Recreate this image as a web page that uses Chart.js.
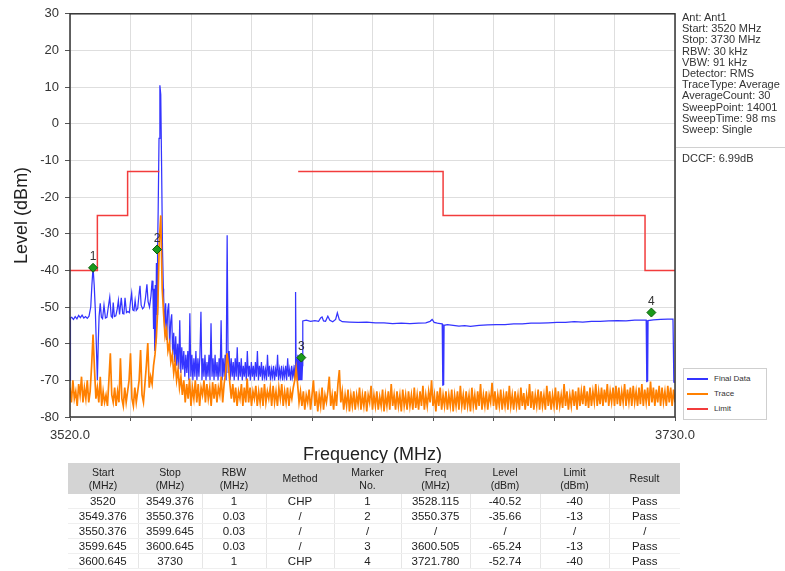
<!DOCTYPE html>
<html>
<head>
<meta charset="utf-8">
<script src="https://cdn.jsdelivr.net/npm/chart.js@4.4.0/dist/chart.umd.min.js"></script>
<style>
  html, body { margin: 0; padding: 0; background: #fff; }
  body { width: 785px; height: 571px; overflow: hidden; position: relative; font-family: 'Liberation Sans', Arial, sans-serif; }
  #plot { position: absolute; left: 0; top: 0; }
  #info { position: absolute; left: 682px; top: 12px; font-size: 11px; line-height: 11.2px; color: #333; white-space: nowrap; }
  #sep { position: absolute; left: 676px; top: 147px; width: 109px; height: 1px; background: #d0d0d0; }
  #dccf { position: absolute; left: 682px; top: 152px; font-size: 11px; color: #333; white-space: nowrap; }
  #legend { position: absolute; left: 683px; top: 368px; width: 82px; height: 50px; border: 1px solid #cfcfcf; background: #fff; font-size: 8px; color: #333; }
  #legend .item { position: absolute; left: 3px; height: 12px; line-height: 12px; white-space: nowrap; }
  #legend .swatch { display: inline-block; width: 21px; height: 0; vertical-align: middle; margin-right: 6px; }
  #tbl { position: absolute; left: 68px; top: 463px; border-collapse: collapse; table-layout: fixed; color: #222; }
  #tbl th { background: #d4d4d4; font-weight: normal; font-size: 10.5px; line-height: 12.5px; height: 31px; padding: 0; text-align: center; }
  #tbl td { height: 14px; line-height: 14px; font-size: 11.5px; padding: 0; text-align: center; border-left: 1px solid #e6e6e6; border-bottom: 1px solid #efefef; }
  #tbl td:first-child { border-left: none; }
</style>
</head>
<body>
<canvas id="plot" width="785" height="466"></canvas>
<div id="info"></div>
<div id="sep"></div>
<div id="dccf"></div>
<div id="legend"></div>
<table id="tbl"></table>
<script>
// sweep settings shown in the side panel
const infoLines = ['Ant: Ant1', 'Start: 3520 MHz', 'Stop: 3730 MHz', 'RBW: 30 kHz', 'VBW: 91 kHz', 'Detector: RMS',
    'TraceType: Average', 'AverageCount: 30', 'SweepPoint: 14001', 'SweepTime: 98 ms', 'Sweep: Single'];
const dccfText = 'DCCF: 6.99dB';

// Final Data, 3520 - 3552.4 MHz (RBW 1 MHz part + carrier)
const finalSegA = [[3520.0,-70],[3520.15,-53],[3520.6,-52.8],[3521.2,-53.4],[3521.8,-52.6],[3522.4,-53.2],[3523.0,-52.3],
    [3523.6,-52.9],[3524.2,-52.2],[3524.8,-53.0],[3525.4,-52.6],[3526.0,-53.1],[3526.6,-52.5],[3527.2,-50],[3527.6,-44],
    [3528.0,-39.2],[3528.4,-44],[3528.8,-51],[3529.2,-62],[3529.5,-70],[3529.8,-60],[3530.1,-52.5],[3530.5,-49],
    [3530.9,-52.8],[3531.3,-53.2],[3531.8,-49.5],[3532.3,-53],[3532.8,-52.8],[3533.3,-50],[3533.8,-47.3],[3534.3,-52.5],
    [3534.7,-52.9],[3535.0,-48.8],[3535.4,-52.6],[3535.9,-52.4],[3536.4,-50.5],[3536.8,-48.2],[3537.2,-52],[3537.8,-47.5],
    [3538.3,-51.8],[3538.7,-51.9],[3539.1,-47.5],[3539.6,-51.5],[3540.1,-51.2],[3540.6,-51.5],[3541.0,-48.5],[3541.4,-46.2],
    [3541.8,-50.8],[3542.2,-51],[3542.6,-48.2],[3543.0,-50.9],[3543.5,-50.4],[3543.9,-47],[3544.3,-44.2],[3544.7,-49.5],
    [3545.2,-50.5],[3545.7,-50],[3546.2,-47.5],[3546.7,-43.8],[3547.1,-48.5],[3547.6,-50],[3548.1,-47],[3548.5,-42.8],
    [3548.8,-46],[3549.0,-56],[3549.2,-45],[3549.4,-62],[3549.6,-44],[3549.8,-60],[3550.0,-38],[3550.2,-52],[3550.4,-34],
    [3550.6,-24],[3550.9,-4],[3551.2,10.5],[3551.5,8],[3551.8,-12],[3552.1,-34],[3552.4,-45]];

// Final Data, dense 30 kHz part from 3552.5 MHz, one value every 0.35 MHz
const denseStart = 3552.5;
const denseStep = 0.35;
const finalDense = [
    -47,-56,-49,-59,-51,-49,-61,-54,-52,-63, -57,-65,-58,-66,-60,-67,-53.6,-68,-61,-67,
    -62,-69,-63,-68,-62,-70,-51.7,-69,-63,-70, -64,-69,-62,-70,-64,-69,-63,-51.3,-70,-64,
    -69,-63,-70,-65,-69,-63,-70,-54.4,-69,-64, -70,-63,-69,-65,-70,-64,-69,-53.6,-70,-64,
    -69,-63,-70,-30.4,-68,-62,-70,-64,-69,-65, -70,-64,-69,-61,-70,-65,-69,-64,-70,-66,
    -69,-65,-70,-62,-69,-66,-70,-65,-69,-66, -70,-65,-69,-62,-70,-66,-69,-65,-70,-66,
    -69,-67,-70,-63,-69,-66,-70,-67,-69,-66, -70,-67,-69,-63,-70,-67,-69,-66,-70,-67,
    -69,-66,-70,-64,-69,-67,-70,-66,-69,-67, -70];

// Final Data, 3598.1 - 3730 MHz
const finalSegB = [[3598.1,-66],[3598.3,-45.9],[3598.5,-68],[3598.7,-64],[3598.9,-70],[3599.1,-63],[3599.3,-70],
    [3599.5,-64],[3599.7,-70],[3599.9,-63.5],[3600.1,-70],[3600.3,-64],[3600.5,-70],[3600.7,-66],[3600.8,-53.8],
    [3602.0,-53.6],[3603.5,-53.9],[3605.0,-53.7],[3606.3,-53.9],[3607.0,-53.0],[3607.5,-52.7],[3608.0,-53.8],
    [3608.7,-53.9],[3609.5,-52.5],[3610.2,-53.6],[3611.2,-54.0],[3612.2,-53.4],[3612.8,-51.6],[3613.5,-53.5],
    [3614.5,-54.0],[3617,-54.1],[3620,-54.2],[3623,-54.1],[3626,-54.3],[3629,-54.3],[3632,-54.5],[3635,-54.4],
    [3638,-54.5],[3641,-54.4],[3643.5,-54.3],[3645.0,-53.9],[3645.7,-53.4],[3646.4,-54.2],[3647.5,-54.4],
    [3648.5,-54.5],[3649.2,-54.6],[3649.4,-71.5],[3649.55,-69.5],[3649.7,-71.3],[3649.85,-55],[3651,-54.8],
    [3653,-55.0],[3655,-55.2],[3657,-55.1],[3659,-55.3],[3662,-55.0],[3665,-54.9],[3668,-54.8],[3671,-54.8],
    [3674,-54.6],[3677,-54.6],[3680,-54.4],[3683,-54.4],[3686,-54.3],[3689,-54.2],[3692,-54.2],[3695,-54.0],
    [3698,-54.1],[3701,-53.9],[3704,-53.9],[3707,-53.8],[3710,-53.7],[3713,-53.8],[3716,-53.6],[3718.5,-53.6],
    [3720.0,-53.6],[3720.2,-70.5],[3720.35,-68.8],[3720.5,-70.3],[3720.65,-53.7],[3722.5,-53.5],[3725,-53.4],
    [3727.5,-53.3],[3729.3,-53.3],[3729.6,-70.5],[3730,-70.5]];

// Trace (average), one value every 0.5 MHz from 3520 MHz
const traceStart = 3520;
const traceStep = 0.5;
const traceLevel = [
    -72,-76,-70,-75,-73,-77,-71,-74,-69,-76, -72,-75,-70,-76,-73,-66,-57.5,-67,-75,-72,
    -76,-69,-77,-73,-76,-74,-77,-70,-62.6,-74, -76,-72,-77,-73,-76,-64,-75,-77,-72,-76,
    -73,-70,-62.6,-75,-77,-72,-76,-73,-70,-61.7, -74,-76,-71,-66,-59.8,-72,-69,-71,-66,-63,
    -58,-50,-32,-25,-45,-52,-58,-56,-62,-60, -65,-63,-68,-65,-70,-67,-72,-69,-74,-70,
    -76,-71,-75,-69.5,-77,-72,-75,-70,-76,-71, -77,-72,-74,-70,-76,-71,-75,-72,-77,-70.5,
    -75,-71,-76,-72,-74,-69,-76,-71,-68,-62.6, -66,-71,-75,-71,-76,-72,-77,-73,-75,-71,
    -77,-72,-76,-69.5,-76,-72,-77,-73,-75,-71.5, -77,-73,-76,-72,-77,-71,-76,-73,-75,-72,
    -77,-71.5,-76,-73,-77,-72,-75,-71,-77,-73, -76,-72,-77,-73,-75,-72,-70,-66.7,-71,-76,
    -73,-77,-73,-78,-74,-76,-72.5,-78,-74,-70, -77,-73,-78.5,-74,-77,-72,-78,-74,-76,-73,
    -69,-77,-74,-78,-73,-77,-71,-67.2,-76,-73, -78,-74,-77,-72.5,-78.5,-74,-77,-73,-78,-74,
    -76.5,-72,-78,-74,-77,-73,-78.5,-74,-76,-71.5, -78,-74,-77,-73,-78,-74.5,-77,-72.5,-78.5,-74,
    -77,-73,-78,-71,-77,-74,-78,-73,-77,-74, -78.5,-72.5,-77,-74,-78,-73,-77,-74,-78,-72,
    -77.5,-74,-78,-73,-77,-71.5,-78,-74,-77,-73, -76,-70,-77,-74,-78.5,-73,-77,-72,-78,-74,
    -77,-73,-78,-74,-77,-72.5,-78.5,-74,-77,-73, -78,-71.5,-77,-74,-78,-73,-77,-74,-78.5,-72,
    -77,-74,-78,-73,-77,-71,-78,-74,-77,-73, -78,-74,-76,-70.7,-77,-73,-78,-74,-77,-72.5,
    -78,-74,-77,-73,-78,-71.5,-77,-74,-78,-73, -77,-74,-78,-72,-77,-73.5,-78,-74,-77,-71,
    -77.5,-73,-78,-74,-77,-72.5,-78,-73,-77,-74, -78,-71.5,-77,-73,-78,-74,-77,-72,-78,-73,
    -77,-74,-77.5,-71,-77,-73,-78,-74,-77,-72.5, -77,-73,-78,-72,-77,-73,-76.5,-71.5,-77,-73,
    -77.5,-72,-77,-73,-76,-71,-77,-73,-76.5,-72, -77,-72.5,-76,-71,-77,-73,-76,-72,-77,-71.5,
    -76.5,-72,-77,-73,-76,-71,-77,-72.5,-76,-72, -77,-71.5,-76,-73,-77,-72,-76.5,-71,-77,-72.5,
    -76,-72,-77,-70.3,-76,-72,-77,-72.5,-76,-71.5, -77,-72,-76,-73,-77,-71.5,-76,-72,-77,-72.5,
    -76];

// Limit line (null = no limit)
const limitFreq = [3520, 3529.5, 3529.5, 3540, 3540, 3551.0, 3575, 3599.2, 3649.5, 3649.5, 3719.6, 3719.6, 3730];
const limitLevel = [-40, -40, -25, -25, -13, -13, null, -13, -13, -25, -25, -40, -40];

// markers
const markerFreq = [3528.0, 3550.2, 3600.3, 3721.8];
const markerLevel = [-39.3, -34.3, -63.8, -51.5];
const markerLabels = ['1', '2', '3', '4'];

// result table
const tableHeader = ['Start<br>(MHz)', 'Stop<br>(MHz)', 'RBW<br>(MHz)', 'Method', 'Marker<br>No.', 'Freq<br>(MHz)', 'Level<br>(dBm)', 'Limit<br>(dBm)', 'Result'];
const tableRows = [
    ['3520', '3549.376', '1', 'CHP', '1', '3528.115', '-40.52', '-40', 'Pass'],
    ['3549.376', '3550.376', '0.03', '/', '2', '3550.375', '-35.66', '-13', 'Pass'],
    ['3550.376', '3599.645', '0.03', '/', '/', '/', '/', '/', '/'],
    ['3599.645', '3600.645', '0.03', '/', '3', '3600.505', '-65.24', '-13', 'Pass'],
    ['3600.645', '3730', '1', 'CHP', '4', '3721.780', '-52.74', '-40', 'Pass']
];
const colWidths = [70, 64, 64, 68, 67, 69, 70, 69, 71];

const FONT = "'Liberation Sans', Arial, sans-serif";
const BLUE = '#3434ff';
const ORANGE = '#ff8000';
const RED = '#f23c3c';

// build point lists
const finalPoints = [];
finalSegA.forEach(p => finalPoints.push({ x: p[0], y: p[1] }));
finalDense.forEach((v, i) => finalPoints.push({ x: denseStart + i * denseStep, y: v }));
finalSegB.forEach(p => finalPoints.push({ x: p[0], y: p[1] }));

const tracePoints = traceLevel.map((v, i) => ({ x: traceStart + i * traceStep, y: v }));
const limitPoints = limitFreq.map((f, i) => ({ x: f, y: limitLevel[i] }));
const markerPoints = markerFreq.map((f, i) => ({ x: f, y: markerLevel[i] }));

// frame round the plot area + marker numbers
const framePlugin = {
    id: 'frame',
    afterDatasetsDraw(chart) {
        const { ctx, chartArea: a } = chart;
        ctx.save();
        ctx.strokeStyle = '#333';
        ctx.lineWidth = 1.5;
        ctx.strokeRect(a.left, a.top, a.right - a.left, a.bottom - a.top);

        const meta = chart.getDatasetMeta(0);
        ctx.fillStyle = '#333';
        ctx.font = '12px ' + FONT;
        ctx.textAlign = 'center';
        ctx.textBaseline = 'bottom';
        meta.data.forEach((pt, i) => ctx.fillText(markerLabels[i], pt.x, pt.y - 5));
        ctx.restore();
    }
};

new Chart(document.getElementById('plot'), {
    type: 'scatter',
    data: {
        datasets: [
            { label: 'Marker', data: markerPoints, showLine: false, pointStyle: 'rectRot', pointRadius: 4.5,
              backgroundColor: '#1b9a1b', borderColor: '#0c5c0c', borderWidth: 1, order: 0 },
            { label: 'Limit', data: limitPoints, showLine: true, pointRadius: 0, borderColor: RED, borderWidth: 1.5, spanGaps: false, order: 1 },
            { label: 'Trace', data: tracePoints, showLine: true, pointRadius: 0, borderColor: ORANGE, borderWidth: 1.7, order: 2 },
            { label: 'Final Data', data: finalPoints, showLine: true, pointRadius: 0, borderColor: BLUE, borderWidth: 1.25, order: 3 }
        ]
    },
    options: {
        responsive: false,
        animation: false,
        events: [],
        layout: { padding: { left: 0, right: 110, top: 13, bottom: 0 } },
        plugins: { legend: { display: false }, tooltip: { enabled: false } },
        scales: {
            x: {
                type: 'linear', min: 3520, max: 3730,
                ticks: {
                    stepSize: 21, autoSkip: false, maxRotation: 0, padding: 7, color: '#333',
                    font: { family: FONT, size: 13 },
                    callback: (v, i, ticks) => (i === 0 || i === ticks.length - 1) ? v.toFixed(1) : ''
                },
                grid: { color: '#dedede', tickLength: 4, tickColor: '#555' },
                border: { display: false },
                title: { display: true, text: 'Frequency (MHz)', color: '#222', font: { family: FONT, size: 18 }, padding: { top: 0, bottom: 0 } },
                afterFit: s => { s.height = 49; }
            },
            y: {
                min: -80, max: 30,
                ticks: { stepSize: 10, padding: 6, color: '#333', font: { family: FONT, size: 13 } },
                grid: { color: '#dedede', tickLength: 5, tickColor: '#555' },
                border: { display: false },
                title: { display: true, text: 'Level (dBm)', color: '#222', font: { family: FONT, size: 18 }, padding: { top: 11, bottom: 0 } },
                afterFit: s => { s.width = 70; }
            }
        }
    },
    plugins: [framePlugin]
});

// side panel
document.getElementById('info').innerHTML = infoLines.join('<br>');
document.getElementById('dccf').textContent = dccfText;

// legend
const legendItems = [['Final Data', BLUE], ['Trace', ORANGE], ['Limit', RED]];
document.getElementById('legend').innerHTML = legendItems.map((it, i) =>
    `<div class="item" style="top:${4 + i * 15}px"><span class="swatch" style="border-top:2px solid ${it[1]}"></span>${it[0]}</div>`
).join('');

// table
const tbl = document.getElementById('tbl');
let html = '<colgroup>' + colWidths.map(w => `<col style="width:${w}px">`).join('') + '</colgroup>';
html += '<tr>' + tableHeader.map(h => `<th>${h}</th>`).join('') + '</tr>';
tableRows.forEach(r => { html += '<tr>' + r.map(c => `<td>${c}</td>`).join('') + '</tr>'; });
tbl.innerHTML = html;
</script>
</body>
</html>
